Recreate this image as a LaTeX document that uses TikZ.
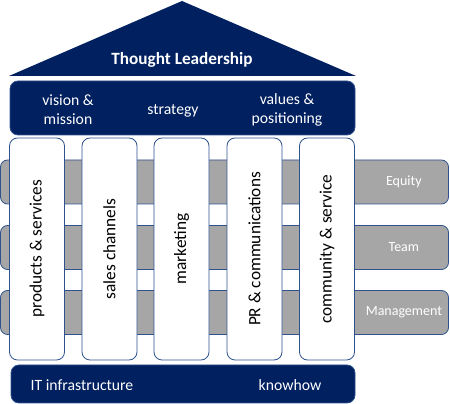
\documentclass[tikz,border=0pt]{standalone}
\usepackage{fontspec}
\setmainfont{Carlito}
\definecolor{navy}{HTML}{002060}
\definecolor{rim}{HTML}{2F528F}
\definecolor{bargray}{HTML}{A6A6A6}
\tikzset{
  bar/.style={draw=rim,fill=bargray,line width=0.8pt,rounded corners=7pt,
    minimum width=448pt,minimum height=44pt,inner sep=0pt},
  barlabel/.style={text=white,font=\fontsize{14}{16}\selectfont},
  pillar/.style={draw=rim,fill=white,line width=0.8pt,rounded corners=8pt,
    minimum width=55pt,minimum height=222pt,inner sep=0pt},
  pillartext/.style={rotate=90,font=\fontsize{17.3}{19}\selectfont},
  bluebox/.style={draw=rim,fill=navy,line width=0.8pt,rounded corners=8pt,inner sep=0pt},
  bluetext/.style={text=white,align=center,font=\fontsize{15.7}{19}\selectfont}
}
\begin{document}
\begin{tikzpicture}[x=1pt,y=1pt]
	\useasboundingbox (0,0) rectangle (450,404);
	% grey bars behind the pillars
	\foreach \name/\y/\t in {equity/222/Equity,team/156.5/Team,management/91.5/Management}{
		\node[bar] (\name) at (224.5,\y) {};
		\node[barlabel] (\name_t) at ([xshift=-45pt]\name.east) {\t};
	}
	% pillars
	\foreach \name/\x/\t in {products/37/products \& services,sales/109.5/sales channels,
		marketing/181.5/marketing,pr/254.5/PR \& communications,community/327/community \& service}{
		\node[pillar] (\name) at (\x,155) {};
		\node[pillartext] (\name_t) at (\name) {\t};
	}
	% roof
	\path (9,328) coordinate (L) (356,328) coordinate (R) (182,403) coordinate (T);
	\fill[navy] (L)--(T)--(R)--cycle;
	\node[text=white,font=\fontsize{17.2}{19}\selectfont\bfseries] (roof) at (182,344) {Thought Leadership};
	% top box
	\node[bluebox,minimum width=345pt,minimum height=54pt] (top) at (182.5,296) {};
	\node[bluetext] (vision) at (68,294) {vision \&\\ mission};
	\node[bluetext] (strategy) at (173,293) {strategy};
	\node[bluetext] (values) at (287,294) {values \&\\ positioning};
	% base
	\node[bluebox,minimum width=344pt,minimum height=38pt] (base) at (183,20) {};
	\node[bluetext] (it) at (82,19) {IT infrastructure};
	\node[bluetext] (knowhow) at (290,19) {knowhow};
\end{tikzpicture}
\end{document}
